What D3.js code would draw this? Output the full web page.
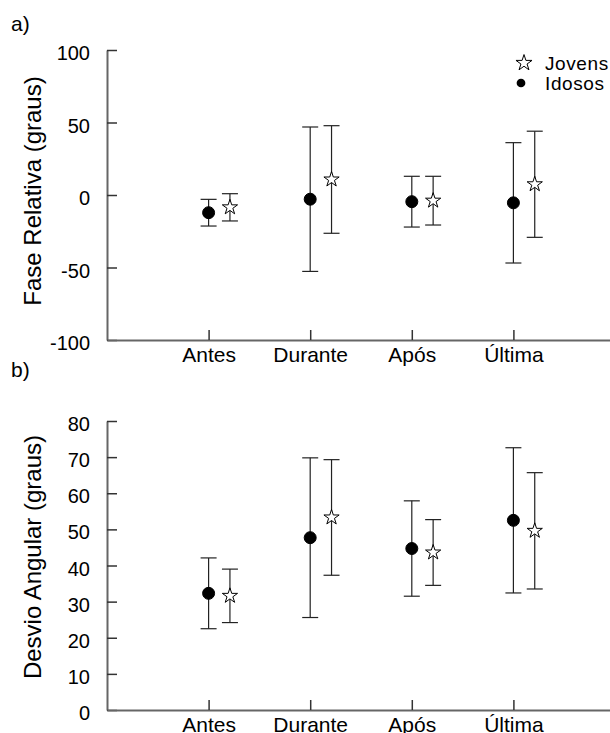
<!DOCTYPE html>
<html>
<head>
<meta charset="utf-8">
<script src="https://cdn.jsdelivr.net/npm/d3@7"></script>
<style>
  body { margin: 0; background: #fff; }
  svg { display: block; font-family: "Liberation Sans", Arial, sans-serif; }
  .axis .domain { stroke: #666; stroke-width: 2; }
  .axis .tick line { stroke: #333; stroke-width: 1.5; }
  .axis text { fill: #000; }
</style>
</head>
<body>
<div id="chart"></div>
<script>
// categories (x axis)
var categories = ["Antes", "Durante", "Após", "Última"];

// a) Fase Relativa (graus): mean and error bar half-length
var faseIdososMean = [-12.2, -2.9, -4.6, -5.4];
var faseIdososErr = [9.2, 49.8, 17.5, 41.5];
var faseJovensMean = [-8.5, 10.7, -3.9, 7.4];
var faseJovensErr = [9.4, 37.1, 16.8, 36.6];
var faseTicks = [-100, -50, 0, 50, 100];

// b) Desvio Angular (graus)
var desvioIdososMean = [32.3, 47.7, 44.7, 52.5];
var desvioIdososErr = [9.8, 22.1, 13.2, 20.1];
var desvioJovensMean = [31.6, 53.3, 43.6, 49.6];
var desvioJovensErr = [7.4, 16.0, 9.1, 16.1];
var desvioTicks = [0, 10, 20, 30, 40, 50, 60, 70, 80];

var width = 610;
var height = 733;
var jovensOffset = 0.21;   // jovens drawn a bit right of the category
var capHalf = 8;           // half width of error bar caps

var svg = d3.select("#chart")
    .append("svg")
    .attr("width", width)
    .attr("height", height);

var x = d3.scaleLinear().domain([0, 5]).range([107, 615]);

var starPath = d3.symbol().type(d3.symbolStar).size(72)();
var dotPath = d3.symbol().type(d3.symbolCircle).size(113)();

function panel(opts) {
    var y = d3.scaleLinear().domain(opts.domain).range(opts.range);
    var g = svg.append("g");

    // y axis, ticks pointing inwards; plain hyphen for negatives
    var yAxis = g.append("g")
        .attr("class", "axis")
        .attr("transform", "translate(" + x(0) + ",0)")
        .call(d3.axisLeft(y).tickValues(opts.ticks)
            .tickFormat(function (d) { return String(d); })
            .tickSizeInner(-10).tickSizeOuter(0).tickPadding(17));
    yAxis.selectAll("text")
        .attr("dy", null)
        .attr("y", 9.5)
        .style("font-size", "20px");

    // x axis
    var xAxis = g.append("g")
        .attr("class", "axis")
        .attr("transform", "translate(0," + y(opts.domain[0]) + ")")
        .call(d3.axisBottom(x).tickValues([1, 2, 3, 4])
            .tickFormat(function (d) { return categories[d - 1]; })
            .tickSizeInner(-10).tickSizeOuter(0));
    xAxis.selectAll("text")
        .attr("dy", null)
        .attr("y", 21.5)
        .style("font-size", "21px");

    // y label
    g.append("text")
        .attr("transform", "translate(41," + opts.labelY + ") rotate(-90)")
        .attr("text-anchor", "middle")
        .style("font-size", "24px")
        .text(opts.label);

    // panel letter
    g.append("text")
        .attr("x", 11)
        .attr("y", opts.letterY)
        .style("font-size", "21px")
        .text(opts.letter);

    var series = [
        { mean: opts.idosos, err: opts.idososErr, off: 0, path: dotPath, fill: "#000" },
        { mean: opts.jovens, err: opts.jovensErr, off: jovensOffset, path: starPath, fill: "#fff" }
    ];

    series.forEach(function (s) {
        var rows = s.mean.map(function (m, i) {
            return { cx: x(i + 1 + s.off), m: m, lo: m - s.err[i], hi: m + s.err[i] };
        });
        var bars = g.append("g")
            .attr("stroke", "#222")
            .attr("stroke-width", 1.2);
        bars.selectAll(".v").data(rows).enter().append("line")
            .attr("x1", function (d) { return d.cx; })
            .attr("x2", function (d) { return d.cx; })
            .attr("y1", function (d) { return y(d.lo); })
            .attr("y2", function (d) { return y(d.hi); });
        ["lo", "hi"].forEach(function (k) {
            bars.selectAll(".c" + k).data(rows).enter().append("line")
                .attr("x1", function (d) { return d.cx - capHalf; })
                .attr("x2", function (d) { return d.cx + capHalf; })
                .attr("y1", function (d) { return y(d[k]); })
                .attr("y2", function (d) { return y(d[k]); });
        });
        g.append("g").selectAll("path").data(rows).enter().append("path")
            .attr("d", s.path)
            .attr("transform", function (d) { return "translate(" + d.cx + "," + y(d.m) + ")"; })
            .attr("fill", s.fill)
            .attr("stroke", "#000")
            .attr("stroke-width", 1);
    });
}

panel({
    domain: [-100, 100], range: [340, 50], ticks: faseTicks,
    idosos: faseIdososMean, idososErr: faseIdososErr,
    jovens: faseJovensMean, jovensErr: faseJovensErr,
    label: "Fase Relativa (graus)", labelY: 191,
    letter: "a)", letterY: 31
});

panel({
    domain: [0, 80], range: [710, 421], ticks: desvioTicks,
    idosos: desvioIdososMean, idososErr: desvioIdososErr,
    jovens: desvioJovensMean, jovensErr: desvioJovensErr,
    label: "Desvio Angular (graus)", labelY: 557,
    letter: "b)", letterY: 377
});

// legend
var legend = svg.append("g").style("font-size", "19px").style("letter-spacing", "0.6px");
legend.append("path")
    .attr("d", d3.symbol().type(d3.symbolStar).size(80)())
    .attr("transform", "translate(524,63)")
    .attr("fill", "#fff").attr("stroke", "#000");
legend.append("text").attr("x", 545).attr("y", 70).text("Jovens");
legend.append("path")
    .attr("d", d3.symbol().type(d3.symbolCircle).size(60)())
    .attr("transform", "translate(521,83)")
    .attr("fill", "#000");
legend.append("text").attr("x", 545).attr("y", 90).text("Idosos");
</script>
</body>
</html>
